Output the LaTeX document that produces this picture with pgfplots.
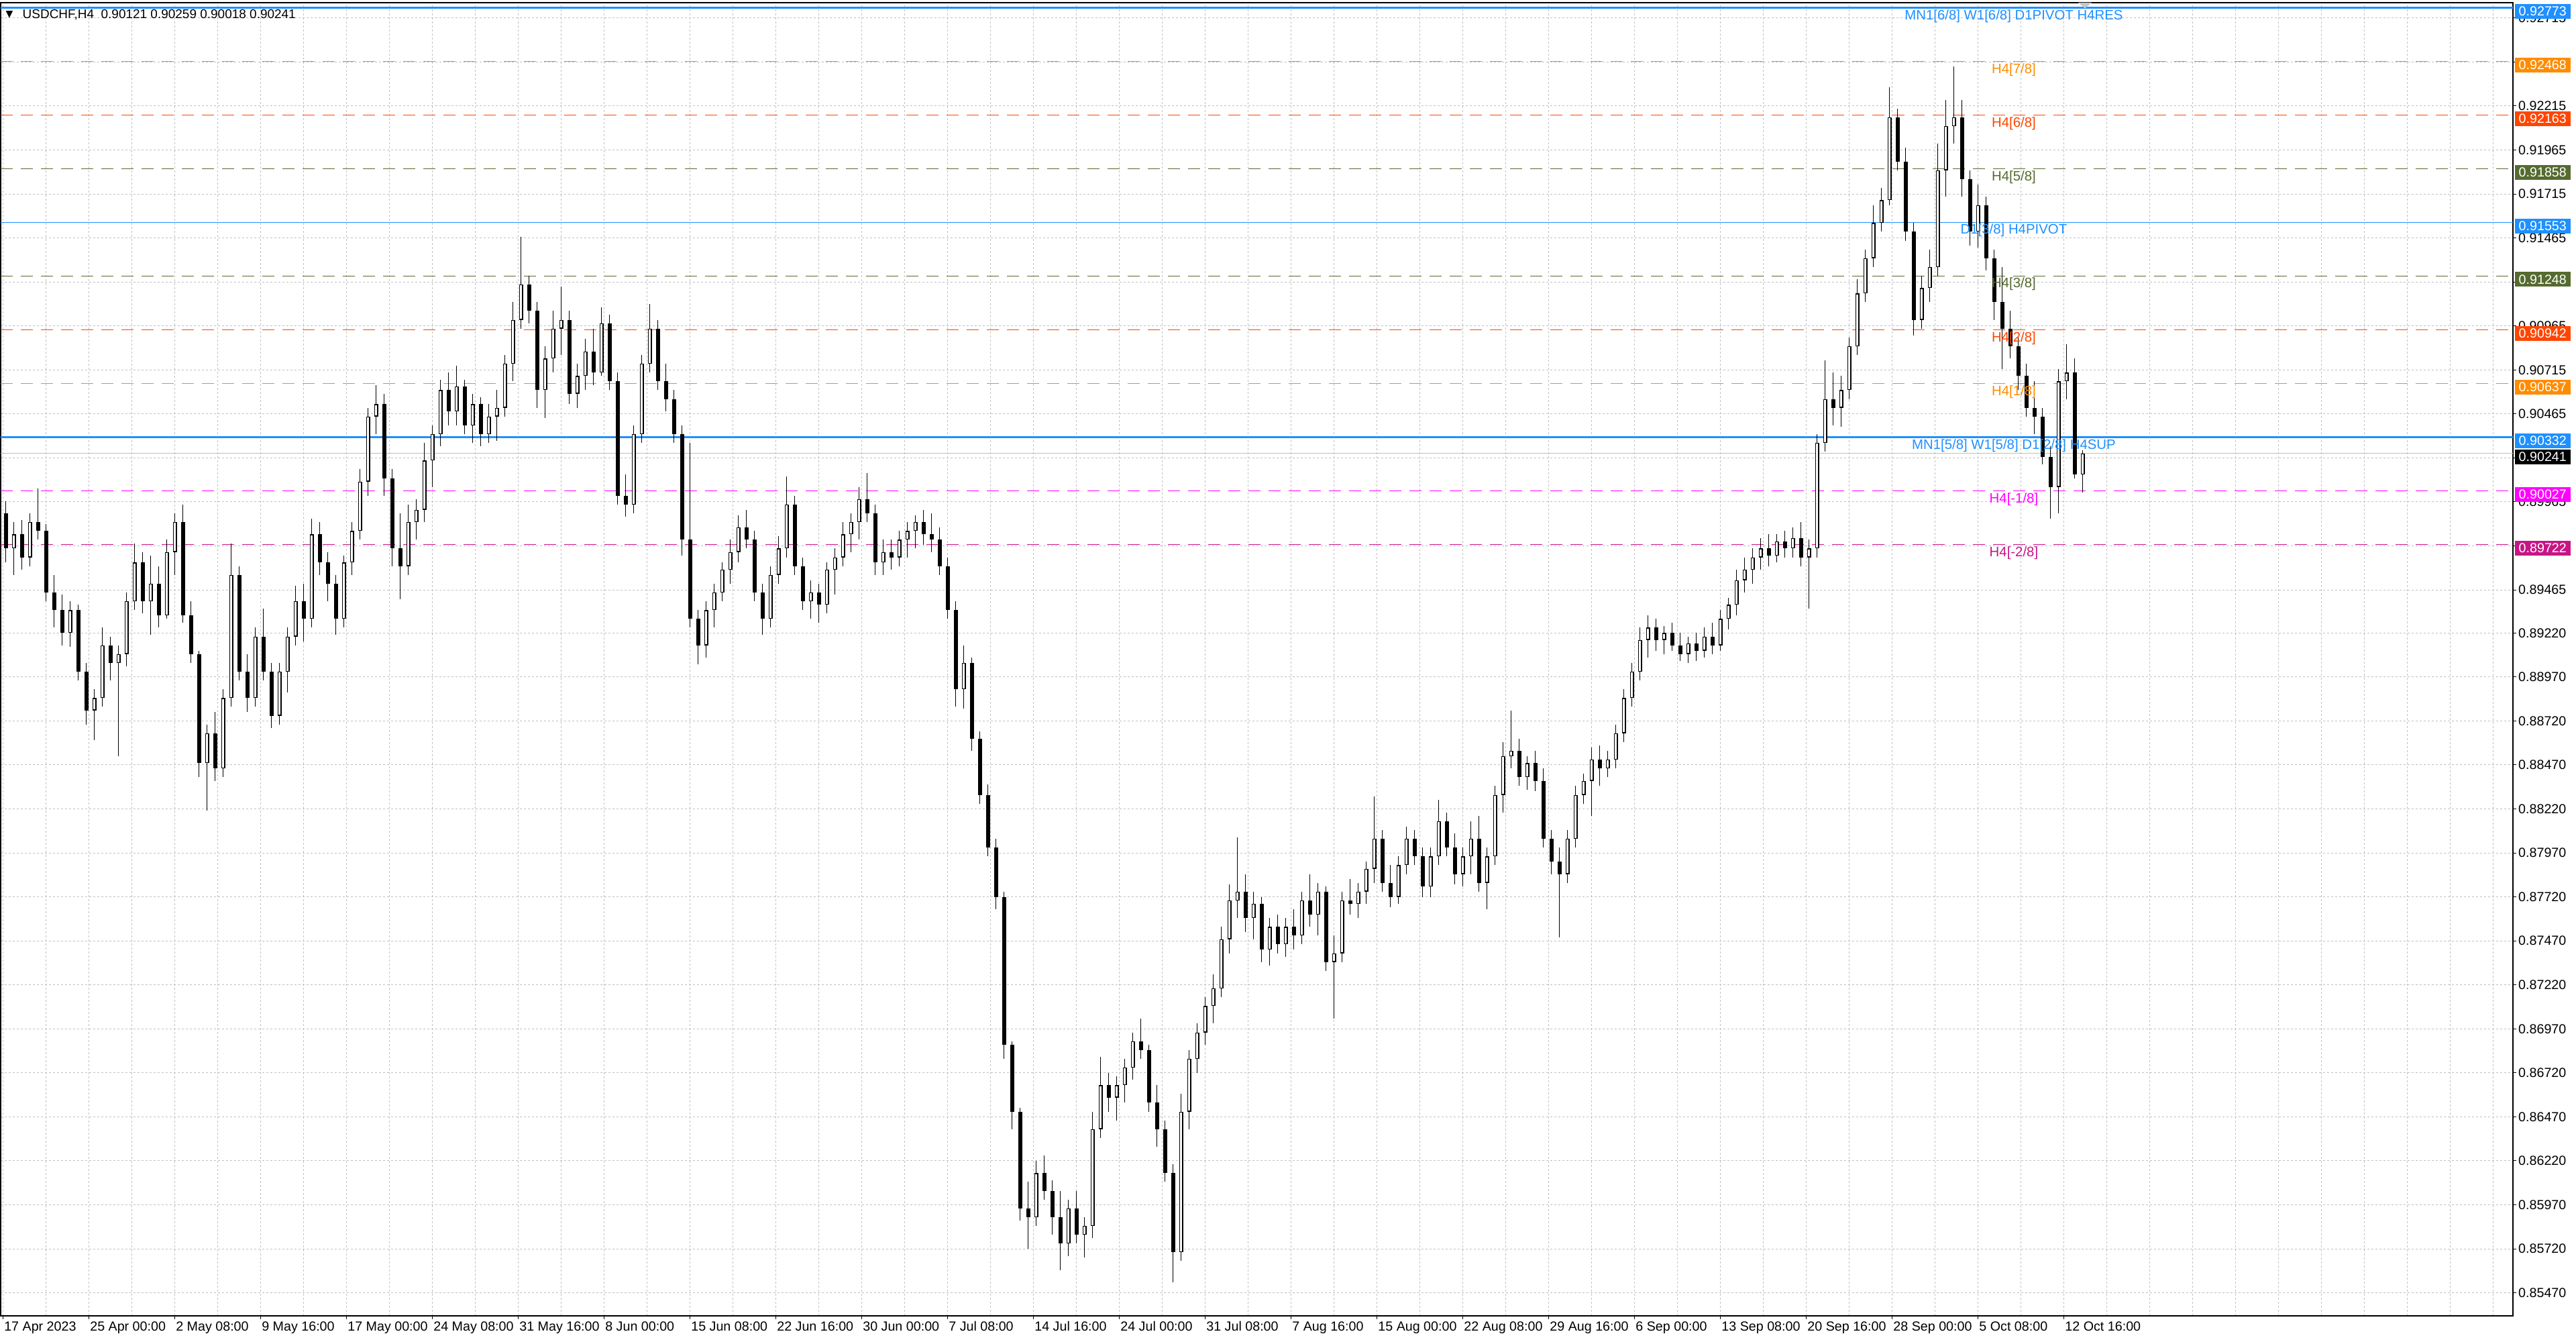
\documentclass[border=0pt]{standalone}
\usepackage{fontspec}
\setmainfont{Liberation Sans}
\newfontfamily\dejavu{DejaVu Sans}
\usepackage{pgfplots}
\usepackage{pgfplotstable}
\pgfplotsset{compat=1.18}
\definecolor{dblue}{RGB}{30,144,255}
\definecolor{dorange}{RGB}{255,140,0}
\definecolor{ored}{RGB}{255,69,0}
\definecolor{olivec}{RGB}{85,107,47}
\definecolor{magc}{RGB}{255,0,255}
\definecolor{mvred}{RGB}{199,21,133}
\definecolor{gridc}{RGB}{192,192,192}
\newcommand\tickfont{\fontsize{5.6pt}{6.6pt}\selectfont}
\newcommand\lvlfont{\fontsize{5.8pt}{6.8pt}\selectfont}

\pgfplotstableread{
x o h l c
1 0.8990 0.8997 0.8962 0.8970
4 0.8970 0.8985 0.8955 0.8978
7 0.8978 0.8986 0.8958 0.8965
10 0.8965 0.8990 0.8960 0.8985
13 0.8985 0.9004 0.8975 0.8980
16 0.8980 0.8984 0.8940 0.8945
19 0.8945 0.8955 0.8925 0.8935
22 0.8935 0.8944 0.8915 0.8922
25 0.8922 0.8940 0.8914 0.8935
28 0.8935 0.8938 0.8895 0.8900
31 0.8900 0.8905 0.8870 0.8878
34 0.8878 0.8890 0.8861 0.8885
37 0.8885 0.8925 0.8880 0.8915
40 0.8915 0.8920 0.8895 0.8905
43 0.8905 0.8915 0.8852 0.8910
46 0.8910 0.8945 0.8903 0.8940
49 0.8940 0.8973 0.8935 0.8962
52 0.8962 0.8968 0.8933 0.8940
55 0.8940 0.8966 0.8921 0.8950
58 0.8950 0.8960 0.8925 0.8932
61 0.8932 0.8975 0.8930 0.8968
64 0.8968 0.8990 0.8955 0.8985
67 0.8985 0.8995 0.8928 0.8932
70 0.8932 0.8940 0.8905 0.8910
73 0.8910 0.8912 0.8840 0.8848
76 0.8848 0.8870 0.8821 0.8865
79 0.8865 0.8877 0.8838 0.8845
82 0.8845 0.8890 0.8840 0.8885
85 0.8885 0.8973 0.8880 0.8955
88 0.8955 0.8960 0.8895 0.8900
91 0.8900 0.8910 0.8877 0.8885
94 0.8885 0.8925 0.8880 0.8920
97 0.8920 0.8936 0.8895 0.8900
100 0.8900 0.8905 0.8868 0.8875
103 0.8875 0.8905 0.8870 0.8900
106 0.8900 0.8925 0.8888 0.8920
109 0.8920 0.8949 0.8915 0.8940
112 0.8940 0.8950 0.8917 0.8930
115 0.8930 0.8987 0.8925 0.8978
118 0.8978 0.8985 0.8955 0.8962
121 0.8962 0.8968 0.8940 0.8950
124 0.8950 0.8955 0.8921 0.8930
127 0.8930 0.8966 0.8925 0.8962
130 0.8962 0.8985 0.8955 0.8980
133 0.8980 0.9015 0.8975 0.9008
136 0.9008 0.9050 0.9000 0.9045
139 0.9045 0.9063 0.9035 0.9052
142 0.9052 0.9058 0.9000 0.9010
145 0.9010 0.9015 0.8960 0.8970
148 0.8970 0.8990 0.8941 0.8960
151 0.8960 0.8995 0.8955 0.8985
154 0.8985 0.8998 0.8975 0.8992
157 0.8992 0.9030 0.8985 0.9020
160 0.9020 0.9040 0.9005 0.9035
163 0.9035 0.9066 0.9028 0.9060
166 0.9060 0.9070 0.9040 0.9048
169 0.9048 0.9074 0.9040 0.9062
172 0.9062 0.9066 0.9035 0.9040
175 0.9040 0.9058 0.9030 0.9052
178 0.9052 0.9056 0.9028 0.9035
181 0.9035 0.9052 0.9030 0.9045
184 0.9045 0.9060 0.9031 0.9050
187 0.9050 0.9080 0.9045 0.9075
190 0.9075 0.9110 0.9065 0.9100
193 0.9100 0.9147 0.9095 0.9120
196 0.9120 0.9125 0.9098 0.9105
199 0.9105 0.9110 0.9050 0.9060
202 0.9060 0.9085 0.9044 0.9078
205 0.9078 0.9105 0.9070 0.9095
208 0.9095 0.9119 0.9080 0.9100
211 0.9100 0.9105 0.9052 0.9058
214 0.9058 0.9075 0.9050 0.9068
217 0.9068 0.9089 0.9060 0.9082
220 0.9082 0.9095 0.9063 0.9070
223 0.9070 0.9107 0.9068 0.9098
226 0.9098 0.9103 0.9060 0.9065
229 0.9065 0.9070 0.8995 0.9000
232 0.9000 0.9012 0.8988 0.8995
235 0.8995 0.9040 0.8990 0.9035
238 0.9035 0.9080 0.9030 0.9075
241 0.9075 0.9109 0.9070 0.9095
244 0.9095 0.9100 0.9060 0.9065
247 0.9065 0.9075 0.9048 0.9055
250 0.9055 0.9060 0.9030 0.9035
253 0.9035 0.9040 0.8966 0.8975
256 0.8975 0.9030 0.8925 0.8930
259 0.8930 0.8935 0.8904 0.8915
262 0.8915 0.8940 0.8908 0.8935
265 0.8935 0.8950 0.8925 0.8945
268 0.8945 0.8962 0.8940 0.8958
271 0.8958 0.8975 0.8950 0.8968
274 0.8968 0.8989 0.8962 0.8982
277 0.8982 0.8992 0.8970 0.8975
280 0.8975 0.8980 0.8940 0.8945
283 0.8945 0.8950 0.8921 0.8930
286 0.8930 0.8960 0.8925 0.8955
289 0.8955 0.8977 0.8950 0.8970
292 0.8970 0.9011 0.8965 0.8995
295 0.8995 0.9000 0.8955 0.8960
298 0.8960 0.8965 0.8935 0.8940
301 0.8940 0.8952 0.8930 0.8945
304 0.8945 0.8950 0.8928 0.8938
307 0.8938 0.8962 0.8933 0.8958
310 0.8958 0.8970 0.8944 0.8965
313 0.8965 0.8985 0.8960 0.8978
316 0.8978 0.8990 0.8968 0.8985
319 0.8985 0.9005 0.8975 0.8998
322 0.8998 0.9013 0.8985 0.8990
325 0.8990 0.8995 0.8955 0.8962
328 0.8962 0.8975 0.8955 0.8968
331 0.8968 0.8975 0.8958 0.8965
334 0.8965 0.8980 0.8960 0.8975
337 0.8975 0.8985 0.8965 0.8980
340 0.8980 0.8989 0.8970 0.8985
343 0.8985 0.8992 0.8972 0.8978
346 0.8978 0.8990 0.8968 0.8975
349 0.8975 0.8982 0.8955 0.8960
352 0.8960 0.8965 0.8930 0.8935
355 0.8935 0.8940 0.8880 0.8890
358 0.8890 0.8915 0.8879 0.8905
361 0.8905 0.8908 0.8855 0.8862
364 0.8862 0.8866 0.8825 0.8830
367 0.8830 0.8836 0.8795 0.8800
370 0.8800 0.8805 0.8765 0.8772
373 0.8772 0.8775 0.8680 0.8688
376 0.8688 0.8690 0.8640 0.8650
379 0.8650 0.8652 0.8588 0.8595
382 0.8595 0.8610 0.8572 0.8590
385 0.8590 0.8622 0.8585 0.8615
388 0.8615 0.8625 0.8600 0.8605
391 0.8605 0.8611 0.8580 0.8590
394 0.8590 0.8605 0.8560 0.8575
397 0.8575 0.8600 0.8568 0.8595
400 0.8595 0.8605 0.8575 0.8580
403 0.8580 0.8590 0.8567 0.8585
406 0.8585 0.8650 0.8578 0.8640
409 0.8640 0.8681 0.8635 0.8665
412 0.8665 0.8672 0.8650 0.8658
415 0.8658 0.8670 0.8645 0.8665
418 0.8665 0.8680 0.8655 0.8675
421 0.8675 0.8695 0.8668 0.8690
424 0.8690 0.8703 0.8680 0.8685
427 0.8685 0.8688 0.8650 0.8655
430 0.8655 0.8665 0.8630 0.8640
433 0.8640 0.8645 0.8610 0.8615
436 0.8615 0.8620 0.8553 0.8570
439 0.8570 0.8660 0.8565 0.8650
442 0.8650 0.8685 0.8640 0.8680
445 0.8680 0.8700 0.8672 0.8695
448 0.8695 0.8715 0.8688 0.8710
451 0.8710 0.8728 0.8700 0.8720
454 0.8720 0.8755 0.8715 0.8748
457 0.8748 0.8779 0.8740 0.8770
460 0.8770 0.8806 0.8760 0.8775
463 0.8775 0.8785 0.8752 0.8760
466 0.8760 0.8775 0.8748 0.8768
469 0.8768 0.8772 0.8735 0.8742
472 0.8742 0.8760 0.8733 0.8755
475 0.8755 0.8762 0.8740 0.8745
478 0.8745 0.8760 0.8738 0.8755
481 0.8755 0.8765 0.8742 0.8750
484 0.8750 0.8775 0.8745 0.8770
487 0.8770 0.8785 0.8755 0.8762
490 0.8762 0.8780 0.8750 0.8775
493 0.8775 0.8778 0.8730 0.8735
496 0.8735 0.8750 0.8703 0.8740
499 0.8740 0.8775 0.8735 0.8770
502 0.8770 0.8782 0.8762 0.8768
505 0.8768 0.8780 0.8760 0.8775
508 0.8775 0.8792 0.8768 0.8788
511 0.8788 0.8829 0.8780 0.8805
514 0.8805 0.8810 0.8775 0.8780
517 0.8780 0.8790 0.8766 0.8772
520 0.8772 0.8795 0.8768 0.8790
523 0.8790 0.8812 0.8785 0.8805
526 0.8805 0.8810 0.8790 0.8795
529 0.8795 0.8800 0.8772 0.8778
532 0.8778 0.8800 0.8772 0.8795
535 0.8795 0.8827 0.8790 0.8815
538 0.8815 0.8820 0.8795 0.8800
541 0.8800 0.8808 0.8779 0.8785
544 0.8785 0.8800 0.8778 0.8795
547 0.8795 0.8815 0.8785 0.8805
550 0.8805 0.8818 0.8775 0.8780
553 0.8780 0.8800 0.8765 0.8795
556 0.8795 0.8835 0.8790 0.8830
559 0.8830 0.8860 0.8820 0.8852
562 0.8852 0.8878 0.8845 0.8855
565 0.8855 0.8862 0.8835 0.8840
568 0.8840 0.8852 0.8833 0.8848
571 0.8848 0.8855 0.8832 0.8838
574 0.8838 0.8845 0.8800 0.8805
577 0.8805 0.8810 0.8785 0.8792
580 0.8792 0.8800 0.8749 0.8785
583 0.8785 0.8810 0.8780 0.8805
586 0.8805 0.8835 0.8800 0.8830
589 0.8830 0.8842 0.8825 0.8838
592 0.8838 0.8857 0.8818 0.8850
595 0.8850 0.8858 0.8835 0.8845
598 0.8845 0.8855 0.8840 0.8850
601 0.8850 0.8870 0.8845 0.8865
604 0.8865 0.8890 0.8860 0.8885
607 0.8885 0.8905 0.8880 0.8900
610 0.8900 0.8925 0.8895 0.8918
613 0.8918 0.8932 0.8908 0.8925
616 0.8925 0.8930 0.8912 0.8918
619 0.8918 0.8926 0.8910 0.8922
622 0.8922 0.8928 0.8912 0.8915
625 0.8915 0.8922 0.8906 0.8910
628 0.8910 0.8920 0.8905 0.8916
631 0.8916 0.8922 0.8906 0.8912
634 0.8912 0.8925 0.8908 0.8920
637 0.8920 0.8928 0.8910 0.8915
640 0.8915 0.8935 0.8912 0.8930
643 0.8930 0.8942 0.8924 0.8938
646 0.8938 0.8958 0.8932 0.8952
649 0.8952 0.8965 0.8945 0.8958
652 0.8958 0.8970 0.8950 0.8965
655 0.8965 0.8976 0.8958 0.8970
658 0.8970 0.8978 0.8960 0.8966
661 0.8966 0.8978 0.8962 0.8974
664 0.8974 0.8980 0.8965 0.8970
667 0.8970 0.8982 0.8965 0.8976
670 0.8976 0.8985 0.8960 0.8965
673 0.8965 0.8975 0.8936 0.8970
676 0.8970 0.9035 0.8965 0.9030
679 0.9030 0.9077 0.9025 0.9055
682 0.9055 0.9070 0.9040 0.9050
685 0.9050 0.9068 0.9039 0.9060
688 0.9060 0.9090 0.9055 0.9085
691 0.9085 0.9123 0.9080 0.9115
694 0.9115 0.9140 0.9110 0.9135
697 0.9135 0.9165 0.9130 0.9155
700 0.9155 0.9175 0.9150 0.9168
703 0.9168 0.9232 0.9165 0.9215
706 0.9215 0.9220 0.9185 0.9190
709 0.9190 0.9198 0.9145 0.9150
712 0.9150 0.9155 0.9091 0.9100
715 0.9100 0.9125 0.9095 0.9118
718 0.9118 0.9140 0.9110 0.9130
721 0.9130 0.9200 0.9125 0.9185
724 0.9185 0.9225 0.9170 0.9210
727 0.9210 0.9244 0.9200 0.9215
730 0.9215 0.9225 0.9170 0.9180
733 0.9180 0.9185 0.9142 0.9150
736 0.9150 0.9177 0.9141 0.9165
739 0.9165 0.9170 0.9128 0.9135
742 0.9135 0.9140 0.9100 0.9110
745 0.9110 0.9130 0.9072 0.9095
748 0.9095 0.9105 0.9078 0.9085
751 0.9085 0.9090 0.9060 0.9068
754 0.9068 0.9075 0.9045 0.9050
757 0.9050 0.9065 0.9035 0.9045
760 0.9045 0.9050 0.9018 0.9022
763 0.9022 0.9028 0.8987 0.9005
766 0.9005 0.9072 0.8990 0.9065
769 0.9065 0.9086 0.9055 0.9070
772 0.9070 0.9078 0.9010 0.9012
775 0.90121 0.90259 0.90018 0.90241
}\candles

\begin{document}
\begin{tikzpicture}
\begin{axis}[
  at={(0.1mm,3.5mm)}, anchor=south west,
  scale only axis, width=374.5mm, height=195.7mm,
  xmin=-0.9, xmax=935.3, ymin=0.85339, ymax=0.92802,
  axis line style={line width=0.15mm, black},
  xtick={0,32,...,768},
  xticklabels={17 Apr 2023,25 Apr 00:00,2 May 08:00,9 May 16:00,17 May 00:00,24 May 08:00,31 May 16:00,8 Jun 00:00,15 Jun 08:00,22 Jun 16:00,30 Jun 00:00,7 Jul 08:00,14 Jul 16:00,24 Jul 00:00,31 Jul 08:00,7 Aug 16:00,15 Aug 00:00,22 Aug 08:00,29 Aug 16:00,6 Sep 00:00,13 Sep 08:00,20 Sep 16:00,28 Sep 00:00,5 Oct 08:00,12 Oct 16:00},
  minor xtick={0,16,...,928},
  ytick={0.8547,0.8572,0.8597,0.8622,0.8647,0.8672,0.8697,0.8722,0.8747,0.8772,0.8797,0.8822,0.8847,0.8872,0.8897,0.8922,0.89465,0.89715,0.89965,0.90215,0.90465,0.90715,0.90965,0.91215,0.91465,0.91715,0.91965,0.92215,0.92465,0.92715},
  yticklabels={0.85470,0.85720,0.85970,0.86220,0.86470,0.86720,0.86970,0.87220,0.87470,0.87720,0.87970,0.88220,0.88470,0.88720,0.88970,0.89220,0.89465,,0.89965,0.90215,0.90465,0.90715,0.90965,,0.91465,0.91715,0.91965,0.92215,,0.92715},
  xtick pos=left, ytick pos=right, yticklabel pos=right,
  tick align=outside, major tick length=0.45mm, minor tick length=0mm,
  tick style={black, line width=0.1mm},
  xmajorgrids=false, xminorgrids=true, ymajorgrids=true,
  major grid style={gridc, line width=0.1mm, dash pattern=on 0.3mm off 0.3mm},
  minor grid style={gridc, line width=0.1mm, dash pattern=on 0.3mm off 0.3mm},
  xticklabel style={anchor=north west, inner sep=0pt, font=\tickfont, xshift=0.1mm, yshift=-0.35mm},
  yticklabel style={anchor=west, inner sep=0pt, font=\tickfont, xshift=0.3mm},
]
% level lines
\addplot[dblue, line width=0.25mm, forget plot] coordinates {(-0.9,0.92773) (935.3,0.92773)};
\addplot[dorange, line width=0.1mm, dash pattern=on 1.8mm off 1.2mm, forget plot] coordinates {(-0.9,0.92468) (935.3,0.92468)};
\addplot[ored, line width=0.1mm, dash pattern=on 1.8mm off 1.2mm, forget plot] coordinates {(-0.9,0.92163) (935.3,0.92163)};
\addplot[olivec, line width=0.1mm, dash pattern=on 1.8mm off 1.2mm, forget plot] coordinates {(-0.9,0.91858) (935.3,0.91858)};
\addplot[dblue, line width=0.1mm, forget plot] coordinates {(-0.9,0.91553) (935.3,0.91553)};
\addplot[olivec, line width=0.1mm, dash pattern=on 1.8mm off 1.2mm, forget plot] coordinates {(-0.9,0.91248) (935.3,0.91248)};
\addplot[ored, line width=0.1mm, dash pattern=on 1.8mm off 1.2mm, forget plot] coordinates {(-0.9,0.90942) (935.3,0.90942)};
\addplot[dorange, line width=0.1mm, dash pattern=on 1.8mm off 1.2mm, forget plot] coordinates {(-0.9,0.90637) (935.3,0.90637)};
\addplot[dblue, line width=0.25mm, forget plot] coordinates {(-0.9,0.90332) (935.3,0.90332)};
\addplot[gridc, line width=0.12mm, forget plot] coordinates {(-0.9,0.90241) (935.3,0.90241)};
\addplot[magc, line width=0.1mm, dash pattern=on 1.8mm off 1.2mm, forget plot] coordinates {(-0.9,0.90027) (935.3,0.90027)};
\addplot[mvred, line width=0.1mm, dash pattern=on 1.8mm off 1.2mm, forget plot] coordinates {(-0.9,0.89722) (935.3,0.89722)};

% wicks
\addplot[draw=none, mark=none, forget plot, error bars/.cd, y dir=both, y explicit, error mark=none,
  error bar style={draw=black, line width=0.1mm}]
  table[x=x, y expr={0.5*(\thisrow{h}+\thisrow{l})}, y error expr={0.5*(\thisrow{h}-\thisrow{l})}] {\candles};
% bear bodies
\addplot[draw=none, mark=none, forget plot, error bars/.cd, y dir=both, y explicit, error mark=none,
  error bar style={draw=black, line width=0.6mm}]
  table[x=x, y expr={\thisrow{c}<\thisrow{o} ? 0.5*(\thisrow{o}+\thisrow{c}) : nan}, y error expr={max(0.5*abs(\thisrow{o}-\thisrow{c}),0.00002)}] {\candles};
% bull bodies: outline
\addplot[draw=none, mark=none, forget plot, error bars/.cd, y dir=both, y explicit, error mark=none,
  error bar style={draw=black, line width=0.6mm}]
  table[x=x, y expr={\thisrow{c}<\thisrow{o} ? nan : 0.5*(\thisrow{o}+\thisrow{c})}, y error expr={max(0.5*abs(\thisrow{c}-\thisrow{o}),0.00002)}] {\candles};
% bull bodies: white inside
\addplot[draw=none, mark=none, forget plot, error bars/.cd, y dir=both, y explicit, error mark=none,
  error bar style={draw=white, line width=0.32mm}]
  table[x=x, y expr={\thisrow{c}<\thisrow{o} ? nan : 0.5*(\thisrow{o}+\thisrow{c})}, y error expr={max(0.5*(\thisrow{c}-\thisrow{o})-0.00005,0)}] {\candles};

% level labels
\node[anchor=north, inner sep=0pt, yshift=-0.2mm, text=dblue, font=\lvlfont] at (axis cs:749.3,0.92773) {MN1[6/8] W1[6/8] D1PIVOT H4RES};
\node[anchor=north, inner sep=0pt, yshift=-0.2mm, text=dorange, font=\lvlfont] at (axis cs:749.3,0.92468) {H4[7/8]};
\node[anchor=north, inner sep=0pt, yshift=-0.2mm, text=ored, font=\lvlfont] at (axis cs:749.3,0.92163) {H4[6/8]};
\node[anchor=north, inner sep=0pt, yshift=-0.2mm, text=olivec, font=\lvlfont] at (axis cs:749.3,0.91858) {H4[5/8]};
\node[anchor=north, inner sep=0pt, yshift=-0.2mm, text=dblue, font=\lvlfont] at (axis cs:749.3,0.91553) {D1[3/8] H4PIVOT};
\node[anchor=north, inner sep=0pt, yshift=-0.2mm, text=olivec, font=\lvlfont] at (axis cs:749.3,0.91248) {H4[3/8]};
\node[anchor=north, inner sep=0pt, yshift=-0.2mm, text=ored, font=\lvlfont] at (axis cs:749.3,0.90942) {H4[2/8]};
\node[anchor=north, inner sep=0pt, yshift=-0.2mm, text=dorange, font=\lvlfont] at (axis cs:749.3,0.90637) {H4[1/8]};
\node[anchor=north, inner sep=0pt, yshift=-0.2mm, text=dblue, font=\lvlfont] at (axis cs:749.3,0.90332) {MN1[5/8] W1[5/8] D1[2/8] H4SUP};
\node[anchor=north, inner sep=0pt, yshift=-0.2mm, text=magc, font=\lvlfont] at (axis cs:749.3,0.90027) {H4[-1/8]};
\node[anchor=north, inner sep=0pt, yshift=-0.2mm, text=mvred, font=\lvlfont] at (axis cs:749.3,0.89722) {H4[-2/8]};

% title
\node[anchor=west, inner sep=0pt, xshift=3.2mm, yshift=-1.8mm, font=\fontsize{5.4pt}{6.4pt}\selectfont] at (rel axis cs:0,1) {USDCHF,H4\hspace{0.55em}0.90121 0.90259 0.90018 0.90241};
\node[anchor=center, inner sep=0pt, xshift=1.3mm, yshift=-1.8mm, font=\dejavu\fontsize{4pt}{4pt}\selectfont] at (rel axis cs:0,1) {▼};
% chart shift marker
\fill[gray!45] (axis cs:773.3,0.92802) -- (axis cs:778.3,0.92802) -- (axis cs:775.8,0.92770) -- cycle;

% anchors for price boxes
\coordinate (b1) at (axis cs:935.3,0.92773);
\coordinate (b2) at (axis cs:935.3,0.92468);
\coordinate (b3) at (axis cs:935.3,0.92163);
\coordinate (b4) at (axis cs:935.3,0.91858);
\coordinate (b5) at (axis cs:935.3,0.91553);
\coordinate (b6) at (axis cs:935.3,0.91248);
\coordinate (b7) at (axis cs:935.3,0.90942);
\coordinate (b8) at (axis cs:935.3,0.90637);
\coordinate (b9) at (axis cs:935.3,0.90332);
\coordinate (b10) at (axis cs:935.3,0.90241);
\coordinate (b11) at (axis cs:935.3,0.90027);
\coordinate (b12) at (axis cs:935.3,0.89722);
\end{axis}
\tikzset{pbox/.style={anchor=west, xshift=0.2mm, yshift=-0.5mm, text=white, inner xsep=0.6mm, inner ysep=0pt, minimum height=2.2mm, font=\tickfont}}
\node[pbox, fill=dblue] at (b1) {0.92773};
\node[pbox, fill=dorange] at (b2) {0.92468};
\node[pbox, fill=ored] at (b3) {0.92163};
\node[pbox, fill=olivec] at (b4) {0.91858};
\node[pbox, fill=dblue] at (b5) {0.91553};
\node[pbox, fill=olivec] at (b6) {0.91248};
\node[pbox, fill=ored] at (b7) {0.90942};
\node[pbox, fill=dorange] at (b8) {0.90637};
\node[pbox, fill=dblue] at (b9) {0.90332};
\node[pbox, fill=black] at (b10) {0.90241};
\node[pbox, fill=magc] at (b11) {0.90027};
\node[pbox, fill=mvred] at (b12) {0.89722};
\pgfresetboundingbox
\path[use as bounding box] (0,0) rectangle (384mm,199.6mm);
\end{tikzpicture}
\end{document}
